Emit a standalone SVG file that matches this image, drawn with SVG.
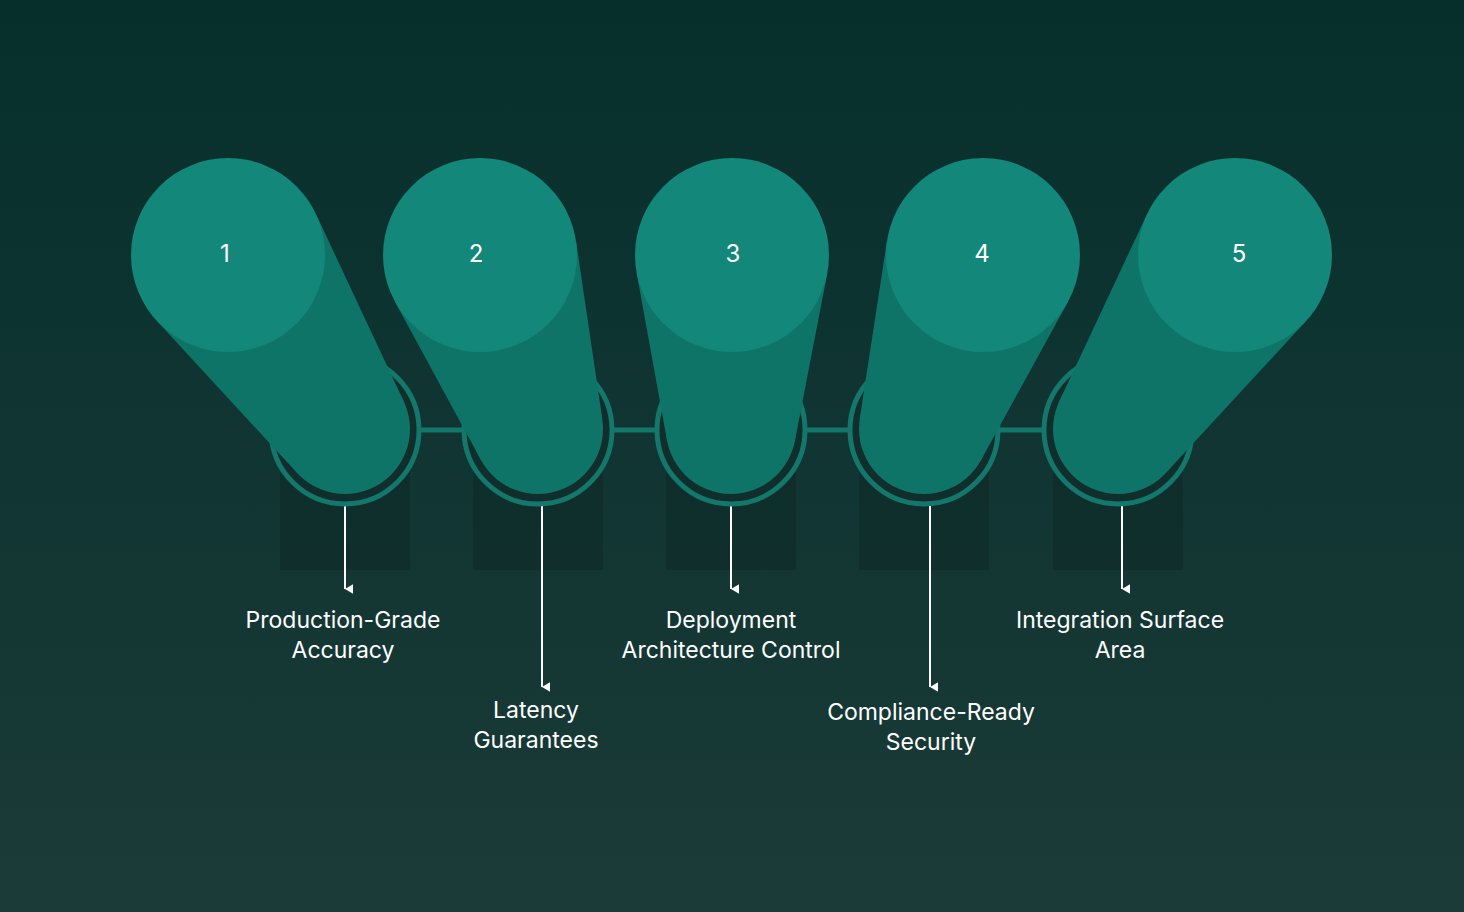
<svg xmlns="http://www.w3.org/2000/svg" width="1464" height="912" viewBox="0 0 1464 912">
<defs>
<linearGradient id="bg" x1="0" y1="0" x2="0" y2="1">
<stop offset="0" stop-color="#062f2c"/><stop offset="1" stop-color="#1b3b38"/>
</linearGradient>
<marker id="ah" markerWidth="10" markerHeight="10" refX="5" refY="8" orient="auto" markerUnits="userSpaceOnUse">
<path d="M0,0 L12,0 L6,10 Z" transform="translate(-1,-2)" fill="#fff"/>
</marker>
<style>
.ring{fill:none;stroke:#13776b;stroke-width:5}
.cap{fill:#0e7468}
.top{fill:#13877a}
.sh{fill:#0b2220;opacity:0.35}
.num{font-family:Inter,"Liberation Sans",sans-serif;font-size:24px;fill:#fff;text-anchor:middle}
.lbl{font-family:Inter,"Liberation Sans",sans-serif;font-size:23px;fill:#fff;text-anchor:middle}
.ar{stroke:#fff;stroke-width:2;fill:none}
</style>
</defs>
<rect width="1464" height="912" fill="url(#bg)"/>
<g id="shadows">
<rect class="sh" x="280" y="430" width="130" height="140"/>
<rect class="sh" x="473" y="430" width="130" height="140"/>
<rect class="sh" x="666" y="430" width="130" height="140"/>
<rect class="sh" x="859" y="430" width="130" height="140"/>
<rect class="sh" x="1053" y="430" width="130" height="140"/>
</g>
<g id="connectors">
<line x1="345" y1="430" x2="1118" y2="430" stroke="#13776b" stroke-width="5"/>
<line class="ar" x1="345" y1="505" x2="345" y2="589" marker-end="url(#ah)"/>
<line class="ar" x1="542" y1="505" x2="542" y2="687" marker-end="url(#ah)"/>
<line class="ar" x1="731" y1="505" x2="731" y2="589" marker-end="url(#ah)"/>
<line class="ar" x1="930" y1="505" x2="930" y2="687" marker-end="url(#ah)"/>
<line class="ar" x1="1122" y1="505" x2="1122" y2="589" marker-end="url(#ah)"/>
</g>
<g id="rings">
<circle class="ring" cx="345" cy="430" r="74" fill="#0f2f2c" style="fill:#102e2b"/>
<circle class="ring" cx="538" cy="430" r="74" style="fill:#102e2b"/>
<circle class="ring" cx="731" cy="430" r="74" style="fill:#102e2b"/>
<circle class="ring" cx="924" cy="430" r="74" style="fill:#102e2b"/>
<circle class="ring" cx="1118" cy="430" r="74" style="fill:#102e2b"/>
</g>
<g id="node1">
<polygon class="cap" points="315.8,213.8 403.8,401.4 297.2,473.1 156.7,320.8"/>
<circle class="cap" cx="345" cy="429" r="65"/>
<circle class="top" cx="228" cy="255" r="97"/>
<text class="num" x="225" y="262">1</text>
<text class="lbl" x="343" y="628">Production-Grade</text>
<text class="lbl" x="343" y="658">Accuracy</text>
</g>
<g id="node2">
<polygon class="cap" points="576,240.8 602.4,419.5 480.9,460 394.7,301.3"/>
<circle class="cap" cx="538" cy="429" r="65"/>
<circle class="top" cx="480" cy="255" r="97"/>
<text class="num" x="476" y="262">2</text>
<text class="lbl" x="536" y="718">Latency</text>
<text class="lbl" x="536" y="748">Guarantees</text>
</g>
<g id="node3">
<polygon class="cap" points="827.4,272.8 794.9,441 667.1,441 636.6,272.8"/>
<circle class="cap" cx="731" cy="429" r="65"/>
<circle class="top" cx="732" cy="255" r="97"/>
<text class="num" x="733" y="262">3</text>
<text class="lbl" x="731" y="628">Deployment</text>
<text class="lbl" x="731" y="658">Architecture Control</text>
</g>
<g id="node4">
<polygon class="cap" points="887,240.8 859.6,419.5 981.1,460 1068.3,301.3"/>
<circle class="cap" cx="924" cy="429" r="65"/>
<circle class="top" cx="983" cy="255" r="97"/>
<text class="num" x="982" y="262">4</text>
<text class="lbl" x="931" y="720">Compliance-Ready</text>
<text class="lbl" x="931" y="750">Security</text>
</g>
<g id="node5">
<polygon class="cap" points="1147.2,213.8 1059.2,401.4 1165.8,473.1 1306.3,320.8"/>
<circle class="cap" cx="1118" cy="429" r="65"/>
<circle class="top" cx="1235" cy="255" r="97"/>
<text class="num" x="1239" y="262">5</text>
<text class="lbl" x="1120" y="628">Integration Surface</text>
<text class="lbl" x="1120" y="658">Area</text>
</g>
</svg>
